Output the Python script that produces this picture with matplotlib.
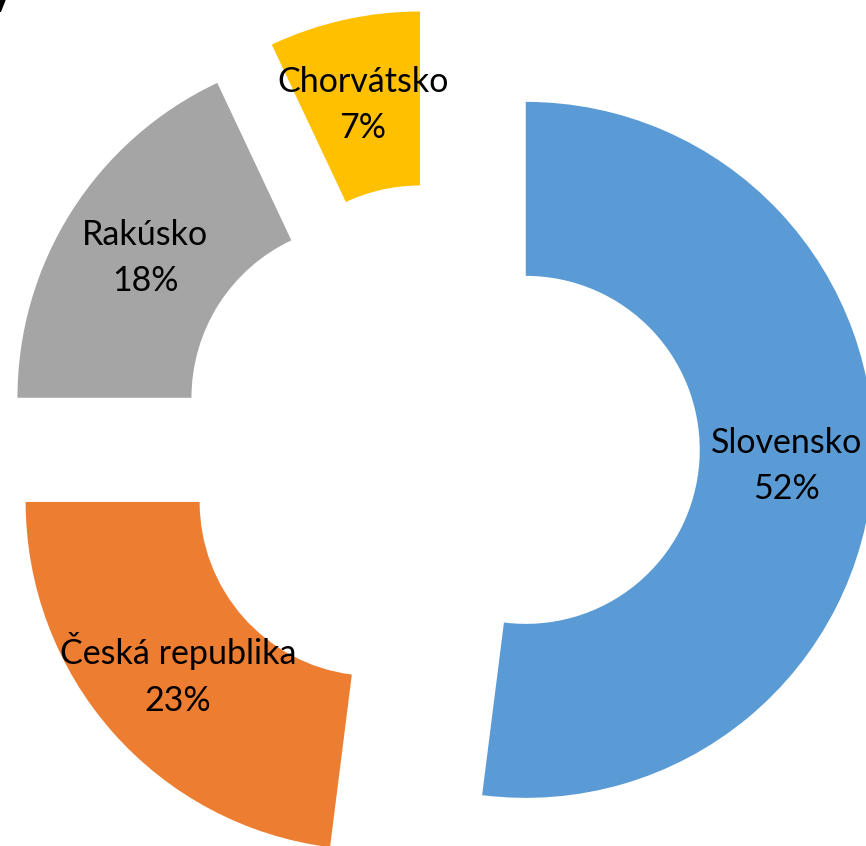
import numpy as np
import matplotlib
matplotlib.use("Agg")
import matplotlib.pyplot as plt

# data
countries = ["Slovensko", "Česká republika", "Rakúsko", "Chorvátsko"]
shares = [52, 23, 18, 7]
colors = ["#5B9BD5", "#ED7D31", "#A5A5A5", "#FFC000"]

plt.rcParams['font.family'] = ['Lato', 'DejaVu Sans']

fig = plt.figure(figsize=(8.66, 8.46), dpi=100)
ax = fig.add_axes([0, 0, 1, 1])

wedges, _ = ax.pie(shares, colors=colors, startangle=90, counterclock=False,
                   radius=1.0, explode=[0.25] * len(shares),
                   wedgeprops=dict(width=0.5, linewidth=0))

# labels in the middle of each ring segment
for w, name, val in zip(wedges, countries, shares):
    th = np.deg2rad((w.theta1 + w.theta2) / 2)
    cx, cy = w.center
    x = cx + 0.75 * np.cos(th)
    y = cy + 0.75 * np.sin(th)
    ax.text(x, y, f"{name}\n{val}%", ha="center", va="center",
            fontsize=24.5, linespacing=1.55, color="black")

# cut-off title fragment in the corner
fig.text(0.014, 1.0, "V", ha="right", va="center", fontsize=30,
         fontweight="bold", color="black")

ax.set_xlim(-1.261, 1.227)
ax.set_ylim(-1.154, 1.277)
ax.set_aspect("equal")
ax.axis("off")

fig.savefig("out.png", dpi=100)
